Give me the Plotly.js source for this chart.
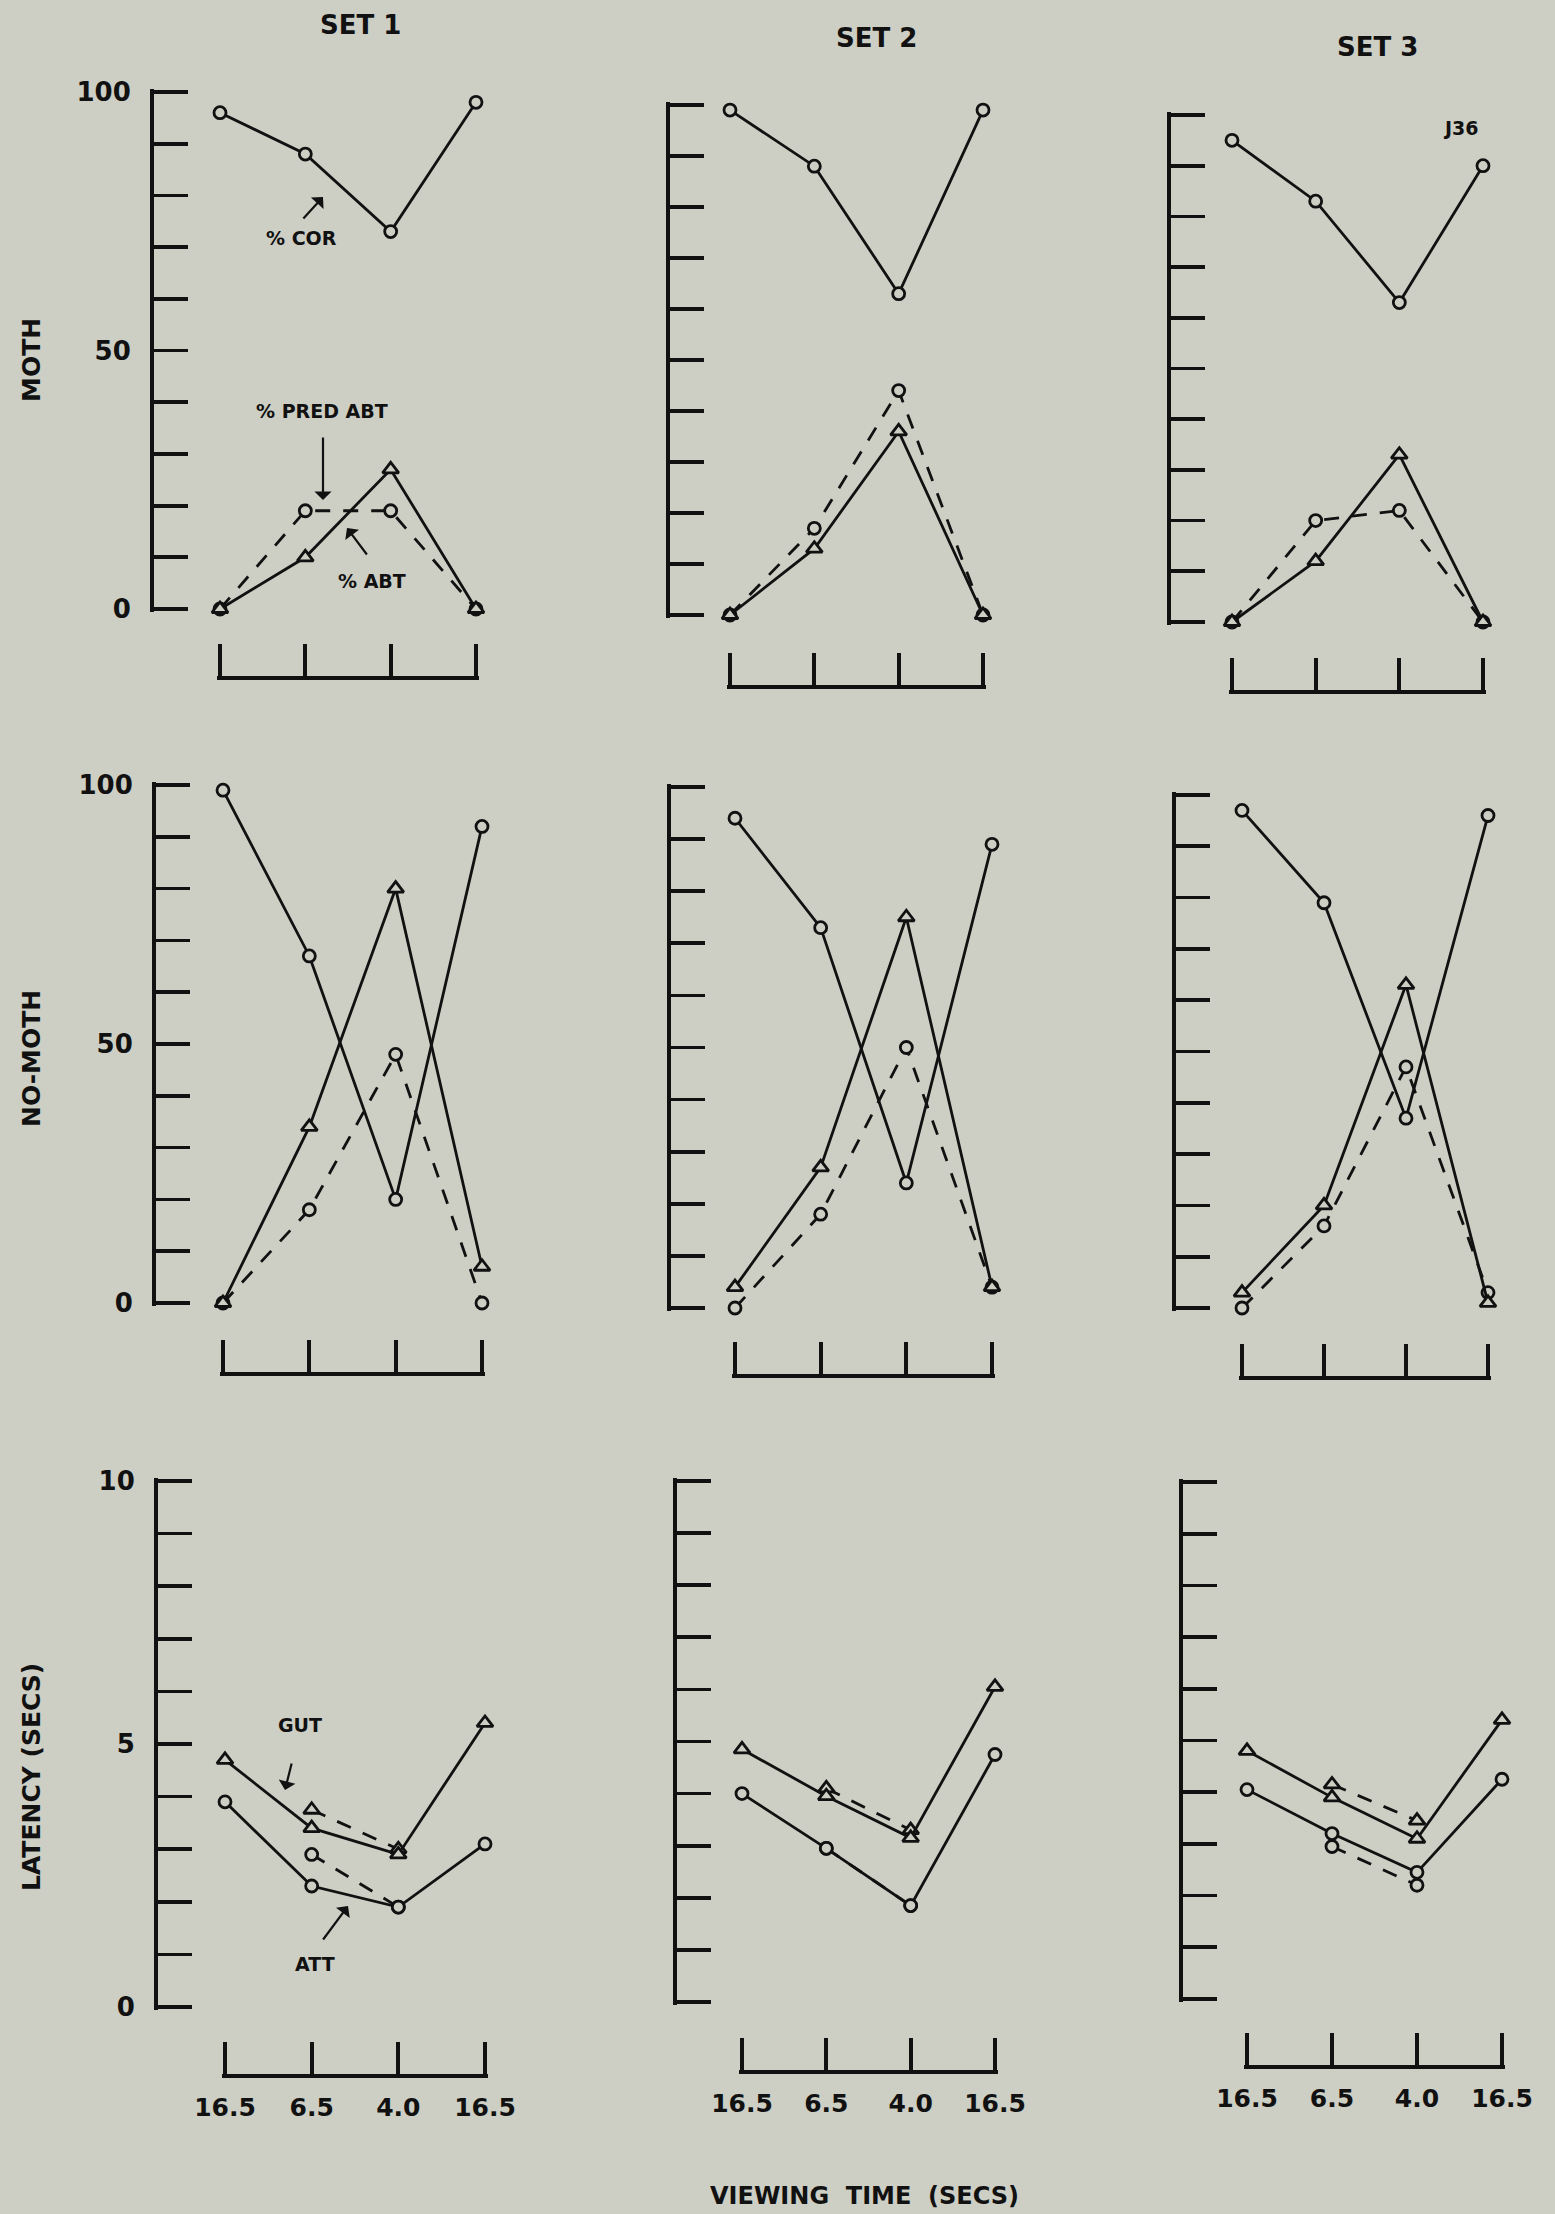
<!DOCTYPE html>
<html>
<head>
<meta charset="utf-8">
<script src="https://cdn.plot.ly/plotly-3.0.1.min.js"></script>
<style>
  html, body { margin: 0; padding: 0; background: #cdcec4; }
  #chart { width: 1555px; height: 2214px; }
</style>
</head>
<body>
<div id="chart"></div>
<script>
// ---------------- DATA ----------------
const viewingTime = ["16.5", "6.5", "4.0", "16.5"];   // tick labels (trial order)
const trialIndex = [0, 1, 2, 3];                       // trial position

// MOTH trials (%)
const mothSet1Cor  = [96, 88, 73, 98];
const mothSet1Pred = [0, 19, 19, 0];
const mothSet1Abt  = [0, 10, 27, 0];
const mothSet2Cor  = [99, 88, 63, 99];
const mothSet2Pred = [0, 17, 44, 0];
const mothSet2Abt  = [0, 13, 36, 0];
const mothSet3Cor  = [95, 83, 63, 90];
const mothSet3Pred = [0, 20, 22, 0];
const mothSet3Abt  = [0, 12, 33, 0];

// NO-MOTH trials (%)
const noMothSet1Cor  = [99, 67, 20, 92];
const noMothSet1Pred = [0, 18, 48, 0];
const noMothSet1Abt  = [0, 34, 80, 7];
const noMothSet2Cor  = [94, 73, 24, 89];
const noMothSet2Pred = [0, 18, 50, 4];
const noMothSet2Abt  = [4, 27, 75, 4];
const noMothSet3Cor  = [97, 79, 37, 96];
const noMothSet3Pred = [0, 16, 47, 3];
const noMothSet3Abt  = [3, 20, 63, 1];

// LATENCY (secs)
const latSet1Gut     = [4.7, 3.4, 2.9, 5.4];
const latSet1GutDash = [null, 3.75, 3.0, null];
const latSet1Att     = [3.9, 2.3, 1.9, 3.1];
const latSet1AttDash = [null, 2.9, 1.9, null];
const latSet2Gut     = [4.85, 3.95, 3.15, 6.05];
const latSet2GutDash = [null, 4.1, 3.3, null];
const latSet2Att     = [4.0, 2.95, 1.85, 4.75];
const latSet2AttDash = [null, 2.95, 1.85, null];
const latSet3Gut     = [4.8, 3.9, 3.1, 5.4];
const latSet3GutDash = [null, 4.15, 3.45, null];
const latSet3Att     = [4.05, 3.2, 2.45, 4.25];
const latSet3AttDash = [null, 2.95, 2.2, null];

const pctTickVals = [0,10,20,30,40,50,60,70,80,90,100];
const pctTickText = ["0","","","","","50","","","","","100"];
const latTickVals = [0,1,2,3,4,5,6,7,8,9,10];
const latTickText = ["0","","","","","5","","","","","10"];

// ---------------- LAYOUT GEOMETRY (pixels) ----------------
const W = 1555, H = 2214;
const BG = "#cdcec4";
const INK = "#111111";
const FONT = "DejaVu Sans";
const PADPX = 3;   // keeps end ticks from being dropped at range edges
const px = x => x / W;
const py = y => 1 - y / H;

const panels = [
  {ax:151,  x0:220,  x3:476,  yTop:92,   yBot:609,  br:677,  row:0, col:0},
  {ax:667,  x0:730,  x3:983,  yTop:105,  yBot:615,  br:686,  row:0, col:1},
  {ax:1168, x0:1232, x3:1483, yTop:115,  yBot:622,  br:691,  row:0, col:2},
  {ax:153,  x0:223,  x3:482,  yTop:785,  yBot:1303, br:1373, row:1, col:0},
  {ax:668,  x0:735,  x3:992,  yTop:787,  yBot:1308, br:1375, row:1, col:1},
  {ax:1173, x0:1242, x3:1488, yTop:795,  yBot:1308, br:1377, row:1, col:2},
  {ax:155,  x0:225,  x3:485,  yTop:1481, yBot:2007, br:2075, row:2, col:0},
  {ax:674,  x0:742,  x3:995,  yTop:1481, yBot:2002, br:2071, row:2, col:1},
  {ax:1180, x0:1247, x3:1502, yTop:1482, yBot:1999, br:2066, row:2, col:2}
];

const series = [
  [ {y:mothSet1Pred,s:"circle",d:"dash"}, {y:mothSet1Abt,s:"triangle-up",d:"solid"}, {y:mothSet1Cor,s:"circle",d:"solid"} ],
  [ {y:mothSet2Pred,s:"circle",d:"dash"}, {y:mothSet2Abt,s:"triangle-up",d:"solid"}, {y:mothSet2Cor,s:"circle",d:"solid"} ],
  [ {y:mothSet3Pred,s:"circle",d:"dash"}, {y:mothSet3Abt,s:"triangle-up",d:"solid"}, {y:mothSet3Cor,s:"circle",d:"solid"} ],
  [ {y:noMothSet1Pred,s:"circle",d:"dash"}, {y:noMothSet1Abt,s:"triangle-up",d:"solid"}, {y:noMothSet1Cor,s:"circle",d:"solid"} ],
  [ {y:noMothSet2Pred,s:"circle",d:"dash"}, {y:noMothSet2Abt,s:"triangle-up",d:"solid"}, {y:noMothSet2Cor,s:"circle",d:"solid"} ],
  [ {y:noMothSet3Pred,s:"circle",d:"dash"}, {y:noMothSet3Abt,s:"triangle-up",d:"solid"}, {y:noMothSet3Cor,s:"circle",d:"solid"} ],
  [ {y:latSet1GutDash,s:"triangle-up",d:"dash"}, {y:latSet1AttDash,s:"circle",d:"dash"}, {y:latSet1Gut,s:"triangle-up",d:"solid"}, {y:latSet1Att,s:"circle",d:"solid"} ],
  [ {y:latSet2GutDash,s:"triangle-up",d:"dash"}, {y:latSet2AttDash,s:"circle",d:"dash"}, {y:latSet2Gut,s:"triangle-up",d:"solid"}, {y:latSet2Att,s:"circle",d:"solid"} ],
  [ {y:latSet3GutDash,s:"triangle-up",d:"dash"}, {y:latSet3AttDash,s:"circle",d:"dash"}, {y:latSet3Gut,s:"triangle-up",d:"solid"}, {y:latSet3Att,s:"circle",d:"solid"} ]
];

const traces = [];
const layout = {
  width: W, height: H,
  margin: {l:0, r:0, t:0, b:0},
  paper_bgcolor: BG, plot_bgcolor: "rgba(0,0,0,0)",
  showlegend: false,
  font: {family: FONT, color: INK},
  annotations: []
};

panels.forEach((p, i) => {
  const n = i + 1;
  const sfx = n === 1 ? "" : String(n);
  const isLat = p.row === 2;
  const yMax = isLat ? 10 : 100;
  series[i].forEach(sr => {
    traces.push({
      type: "scatter", mode: "lines+markers",
      x: trialIndex, y: sr.y, xaxis: "x" + sfx, yaxis: "y" + sfx,
      cliponaxis: false, connectgaps: false, hoverinfo: "skip",
      line: {color: INK, width: 2.8, dash: sr.d === "dash" ? "15px,13px" : "solid"},
      marker: {symbol: sr.s, size: sr.s === "circle" ? 12 : 14, color: BG,
               line: {color: INK, width: 2.8}}
    });
  });
  // padded ranges so the end ticks are kept
  const xUnit = (p.x3 - p.x0) / 3;
  const xPad = PADPX / xUnit;
  const yUnit = (p.yBot - p.yTop) / yMax;
  const yPad = PADPX / yUnit;
  layout["xaxis" + sfx] = {
    domain: [px(p.x0 - PADPX), px(p.x3 + PADPX)], range: [-xPad, 3 + xPad],
    anchor: "free", position: py(p.br),
    showline: true, linecolor: INK, linewidth: 3.8, mirror: false,
    ticks: "inside", ticklen: 32, tickwidth: 3.8, tickcolor: INK,
    tickmode: "array", tickvals: trialIndex, ticktext: viewingTime,
    showticklabels: isLat, ticklabelstandoff: 8,
    tickfont: {family: FONT, size: 25, color: INK, weight: "bold"},
    showgrid: false, zeroline: false, fixedrange: true
  };
  layout["yaxis" + sfx] = {
    domain: [py(p.yBot + PADPX), py(p.yTop - PADPX)], range: [-yPad, yMax + yPad],
    anchor: "free", position: px(p.ax),
    showline: true, linecolor: INK, linewidth: 3.8,
    ticks: "inside", ticklen: 34, tickwidth: 3.8, tickcolor: INK,
    tickmode: "array", tickvals: isLat ? latTickVals : pctTickVals,
    ticktext: isLat ? latTickText : pctTickText,
    showticklabels: p.col === 0, ticklabelstandoff: 14,
    tickfont: {family: FONT, size: 26, color: INK, weight: "bold"},
    showgrid: false, zeroline: false, fixedrange: true
  };
});

function txt(text, x, y, size, angle) {
  layout.annotations.push({
    text: text, xref: "paper", yref: "paper", x: px(x), y: py(y),
    xanchor: "center", yanchor: "middle", showarrow: false,
    textangle: angle || 0,
    font: {family: FONT, size: size, color: INK, weight: "bold"}
  });
}
function arrow(tipX, tipY, tailX, tailY) {
  layout.annotations.push({
    text: "", xref: "paper", yref: "paper", x: px(tipX), y: py(tipY),
    ax: tailX - tipX, ay: tailY - tipY, showarrow: true,
    arrowhead: 1, arrowsize: 1.3, arrowwidth: 2.2, arrowcolor: INK
  });
}

// column titles
txt("SET 1", 360, 25, 26);
txt("SET 2", 876, 38, 26);
txt("SET 3", 1377, 47, 26);
// row titles
txt("MOTH", 31, 360, 25, -90);
txt("NO-MOTH", 31, 1059, 25, -90);
txt("LATENCY (SECS)", 31, 1777, 25, -90);
// x title
txt("VIEWING\u00a0\u00a0TIME\u00a0\u00a0(SECS)", 864, 2196, 24);
// in-plot labels
txt("% COR", 301, 238, 19);
arrow(323, 197, 302, 220);
txt("% PRED ABT", 322, 411, 19);
arrow(323, 500, 323, 436);
txt("% ABT", 372, 581, 19);
arrow(347, 528, 368, 556);
txt("J36", 1461, 128, 19);
txt("GUT", 300, 1725, 19);
arrow(285, 1790, 292, 1762);
txt("ATT", 315, 1964, 19);
arrow(348, 1906, 322, 1941);

Plotly.newPlot("chart", traces, layout, {staticPlot: true, displayModeBar: false});
</script>
</body>
</html>
